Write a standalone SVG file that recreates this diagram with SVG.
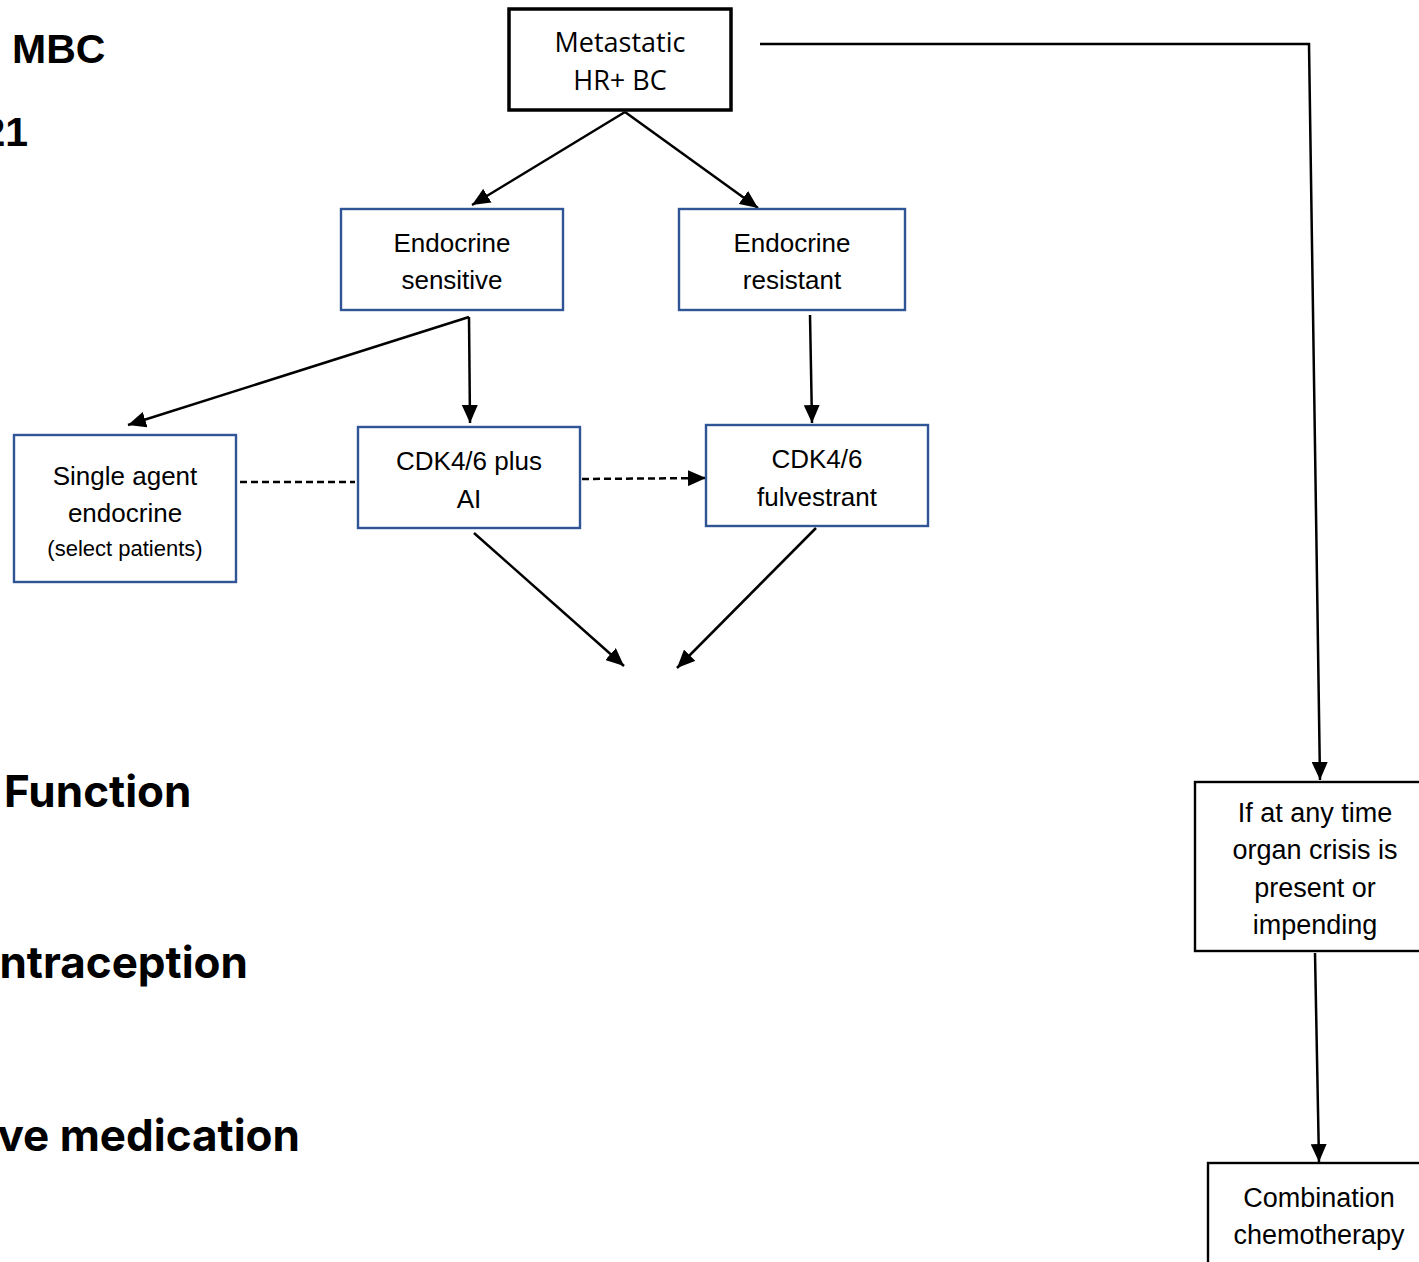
<svg xmlns="http://www.w3.org/2000/svg" width="1419" height="1262" viewBox="0 0 1419 1262">
<style>
.bg{fill:#ffffff}
.nb{fill:#ffffff;stroke:#2F5597;stroke-width:2.4}
.kb{fill:#ffffff;stroke:#000000;stroke-width:2.4}
.tb{fill:#ffffff;stroke:#000000;stroke-width:3.5}
.t{font-family:"Liberation Sans",Arial,sans-serif;font-size:26px;fill:#000;text-anchor:middle}
.ta{font-family:"Open Sans","Noto Sans",sans-serif;font-size:27px;fill:#000;text-anchor:middle}
.h{font-family:"Liberation Sans",Arial,sans-serif;font-weight:bold;font-size:41px;fill:#000}
.h2{font-family:Inter,"Liberation Sans",sans-serif;font-weight:bold;font-size:44px;fill:#000}
.c{fill:none;stroke:#000;stroke-width:2.5}
.d{fill:none;stroke:#000;stroke-width:2.5;stroke-dasharray:7,4}
</style>
<defs>
<marker id="ah" markerUnits="userSpaceOnUse" markerWidth="20" markerHeight="16" refX="18" refY="8" orient="auto">
<path d="M0,0 L18,8 L0,16 Z" fill="#000"/>
</marker>
</defs>
<rect class="bg" x="0" y="0" width="1419" height="1262"/>

<g id="headings">
<text class="h" x="12" y="63">MBC</text>
<text class="h" x="28" y="146" text-anchor="end">21</text>
<text class="h2" x="4" y="807">Function</text>
<text class="h2" x="248" y="978" text-anchor="end">ntraception</text>
<text class="h2" x="300" y="1151" text-anchor="end">ve medication</text>
</g>

<g id="connectors">
<line class="c" x1="625" y1="112" x2="472" y2="205" marker-end="url(#ah)"/>
<line class="c" x1="625" y1="112" x2="758" y2="208" marker-end="url(#ah)"/>
<polyline class="c" points="760,44 1309,44 1320,780" marker-end="url(#ah)"/>
<line class="c" x1="469" y1="317" x2="128" y2="425" marker-end="url(#ah)"/>
<line class="c" x1="469" y1="317" x2="470" y2="423" marker-end="url(#ah)"/>
<line class="c" x1="810" y1="315" x2="812" y2="423" marker-end="url(#ah)"/>
<line class="d" x1="240" y1="482" x2="355" y2="482"/>
<line class="d" x1="582" y1="479" x2="706" y2="478" marker-end="url(#ah)"/>
<line class="c" x1="474" y1="533" x2="624" y2="666" marker-end="url(#ah)"/>
<line class="c" x1="816" y1="528" x2="677" y2="668" marker-end="url(#ah)"/>
<line class="c" x1="1315" y1="953" x2="1319" y2="1162" marker-end="url(#ah)"/>
</g>

<g id="n-metastatic">
<rect class="tb" x="509" y="9" width="222" height="101"/>
<text class="ta" x="620" y="52">Metastatic</text>
<text class="ta" x="620" y="90">HR+ BC</text>
</g>

<g id="n-sensitive">
<rect class="nb" x="341" y="209" width="222" height="101"/>
<text class="t" x="452" y="252">Endocrine</text>
<text class="t" x="452" y="289">sensitive</text>
</g>

<g id="n-resistant">
<rect class="nb" x="679" y="209" width="226" height="101"/>
<text class="t" x="792" y="252">Endocrine</text>
<text class="t" x="792" y="289">resistant</text>
</g>

<g id="n-single">
<rect class="nb" x="14" y="435" width="222" height="147"/>
<text class="t" x="125" y="485">Single agent</text>
<text class="t" x="125" y="522">endocrine</text>
<text class="t" x="125" y="556" style="font-size:22px">(select patients)</text>
</g>

<g id="n-cdkai">
<rect class="nb" x="358" y="427" width="222" height="101"/>
<text class="t" x="469" y="470">CDK4/6 plus</text>
<text class="t" x="469" y="508">AI</text>
</g>

<g id="n-cdkful">
<rect class="nb" x="706" y="425" width="222" height="101"/>
<text class="t" x="817" y="468">CDK4/6</text>
<text class="t" x="817" y="506">fulvestrant</text>
</g>

<g id="n-crisis">
<rect class="kb" x="1195" y="782" width="240" height="169"/>
<text class="t" x="1315" y="822" style="font-size:27px">If at any time</text>
<text class="t" x="1315" y="859" style="font-size:27px">organ crisis is</text>
<text class="t" x="1315" y="897" style="font-size:27px">present or</text>
<text class="t" x="1315" y="934" style="font-size:27px">impending</text>
</g>

<g id="n-chemo">
<rect class="kb" x="1208" y="1163" width="230" height="120"/>
<text class="t" x="1319" y="1207" style="font-size:27px">Combination</text>
<text class="t" x="1319" y="1244" style="font-size:27px">chemotherapy</text>
</g>
</svg>
